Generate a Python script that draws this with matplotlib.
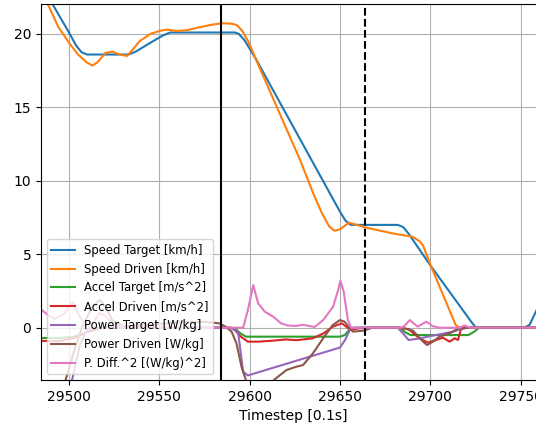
import matplotlib
matplotlib.use('Agg')
import matplotlib.pyplot as plt

# Speed Target [km/h]
speed_target_t = [29478, 29491, 29500, 29504, 29507, 29510, 29533, 29537, 29545, 29552, 29556, 29592, 29594,
                  29597, 29600, 29603, 29650, 29653, 29656, 29682, 29685, 29688, 29700, 29723, 29725, 29727,
                  29752, 29755, 29760, 29766]
speed_target = [24.7, 22.0, 20.1, 19.2, 18.75, 18.6, 18.6, 18.8, 19.4, 19.9, 20.1, 20.1, 20.0,
                19.6, 19.0, 18.4, 7.9, 7.3, 7.0, 7.0, 6.85, 6.4, 4.25, 0.35, 0.05, 0.0,
                0.0, 0.2, 1.5, 3.0]

# Speed Driven [km/h]
speed_driven_t = [29478, 29488, 29494, 29500, 29505, 29510, 29513, 29516, 29520, 29524, 29528, 29532, 29535,
                  29539, 29545, 29550, 29554, 29560, 29565, 29572, 29580, 29585, 29590, 29593, 29596, 29600,
                  29603, 29628, 29635, 29640, 29644, 29647, 29650, 29655, 29665, 29680, 29690, 29694, 29696,
                  29700, 29714, 29716, 29766]
speed_driven = [25.5, 22.1, 20.5, 19.4, 18.6, 18.05, 17.85, 18.1, 18.7, 18.8, 18.6, 18.5, 18.9,
                19.5, 20.0, 20.2, 20.3, 20.2, 20.25, 20.45, 20.65, 20.73, 20.7, 20.6, 20.2, 19.3,
                18.4, 11.4, 9.2, 7.8, 6.9, 6.6, 6.7, 7.15, 6.8, 6.4, 6.2, 5.9, 5.6,
                4.3, 0.2, 0.0, 0.0]

# Accel Target [m/s^2]
accel_target_t = [29478, 29495, 29503, 29508, 29513, 29518, 29590, 29592, 29595, 29598, 29650, 29652.7,
                  29655.4, 29658, 29683, 29686, 29689, 29721, 29724, 29727, 29766]
accel_target = [-0.7, -0.7, -0.6, -0.4, -0.15, 0, 0, -0.05, -0.4, -0.61, -0.61, -0.5,
                -0.1, 0, 0, -0.3, -0.5, -0.5, -0.3, 0, 0]

# Accel Driven [m/s^2]
accel_driven_t = [29478, 29495, 29503, 29510, 29518, 29589, 29591, 29595, 29599, 29605, 29613, 29620, 29626,
                  29635, 29641, 29646, 29651, 29653.5, 29656, 29660, 29666, 29683, 29688, 29694, 29698.7,
                  29703, 29707, 29710.7, 29713.5, 29715.3, 29717, 29720, 29766]
accel_driven = [-0.9, -0.9, -0.7, -0.3, 0, 0, -0.05, -0.6, -0.95, -0.95, -0.88, -0.8, -0.85,
                -0.72, -0.38, 0.07, 0.3, 0.07, -0.15, -0.05, 0, 0, -0.1, -0.72, -1.02,
                -0.84, -0.68, -0.95, -0.72, -0.84, -0.1, 0, 0]

# Power Target [W/kg]
power_target_t = [29478, 29499, 29502, 29506, 29510, 29513, 29584, 29590, 29593.6, 29596.4, 29599, 29650,
                  29653, 29655.4, 29657, 29682, 29685, 29688, 29694, 29703, 29712.6, 29718, 29721, 29766]
power_target = [-6.0, -4.6, -3.4, -1.2, -0.1, 0, 0, -0.05, -0.3, -3.0, -3.25, -1.35,
                -0.8, -0.16, 0, 0, -0.4, -0.84, -0.73, -0.5, -0.27, -0.05, 0, 0]

# Power Driven [W/kg]
power_driven_t = [29490, 29498, 29503, 29508, 29513, 29517, 29520, 29524, 29530, 29545, 29560, 29575, 29583,
                  29587, 29590, 29592.7, 29595.5, 29598.3, 29603, 29608, 29613, 29620.4, 29626, 29629.6,
                  29635, 29640.7, 29646, 29650, 29652.6, 29655.4, 29657.2, 29663, 29668, 29684, 29690.4,
                  29696, 29698.2, 29701.5, 29705, 29710.7, 29715.3, 29719, 29766]
power_driven = [-6.5, -3.6, -1.5, 0.3, 1.4, 1.9, 1.5, 0.5, 0.1, 0.2, 0.35, 0.4, 0.3,
                0.05, -0.27, -1.06, -2.66, -3.7, -4.6, -4.5, -3.6, -2.88, -2.65, -2.54,
                -1.75, -0.72, 0.18, 0.52, 0.41, -0.04, -0.27, -0.2, 0, 0, -0.2,
                -0.95, -1.18, -0.95, -0.61, -0.38, -0.07, 0, 0]

# P. Diff.^2 [(W/kg)^2]
p_diff_t = [29478, 29484, 29488, 29492, 29497, 29502, 29505, 29509, 29513, 29517, 29520, 29524, 29530,
            29596.4, 29599, 29602, 29604.7, 29608.4, 29613, 29617.4, 29621, 29625.7, 29629.4, 29633, 29636,
            29640.7, 29646.2, 29649, 29650.2, 29652, 29654.4, 29656.2, 29684, 29686, 29688.6, 29693,
            29697.8, 29701.5, 29705, 29716, 29719, 29722, 29766]
p_diff = [1.6, 1.3, 0.9, 0.6, 0.9, 1.75, 1.0, 0.1, 0.3, 1.0, 0.8, 0.3, 0.02,
          0, 1.2, 2.9, 1.66, 1.09, 0.75, 0.3, 0.15, 0.12, 0.2, 0.12, 0.05,
          0.52, 1.43, 2.57, 3.2, 2.5, 0.5, 0.0, 0, 0.15, 0.52, 0.07,
          0.41, 0.1, 0, 0, 0.15, 0, 0]

start_step = 29584
end_step = 29664

fig = plt.figure(figsize=(5.36, 4.26), dpi=100)
ax = fig.add_axes([0.0765, 0.108, 0.942, 0.8826])

ax.plot(speed_target_t, speed_target, label='Speed Target [km/h]')
ax.plot(speed_driven_t, speed_driven, label='Speed Driven [km/h]')
ax.plot(accel_target_t, accel_target, label='Accel Target [m/s^2]')
ax.plot(accel_driven_t, accel_driven, label='Accel Driven [m/s^2]')
ax.plot(power_target_t, power_target, label='Power Target [W/kg]')
ax.plot(power_driven_t, power_driven, label='Power Driven [W/kg]')
ax.plot(p_diff_t, p_diff, label='P. Diff.^2 [(W/kg)^2]')

ax.axvline(start_step, color='k', linewidth=1.5)
ax.axvline(end_step, color='k', linestyle='--', linewidth=1.5)

ax.set_xlim(29484.5, 29764)
ax.set_ylim(-3.56, 22.04)
ax.set_xticks([29500, 29550, 29600, 29650, 29700, 29750])
ax.set_yticks([0, 5, 10, 15, 20])
ax.grid(True)
ax.set_xlabel('Timestep [0.1s]')
ax.legend(loc='lower left', fontsize='small')

plt.savefig('out.png', dpi=100)
